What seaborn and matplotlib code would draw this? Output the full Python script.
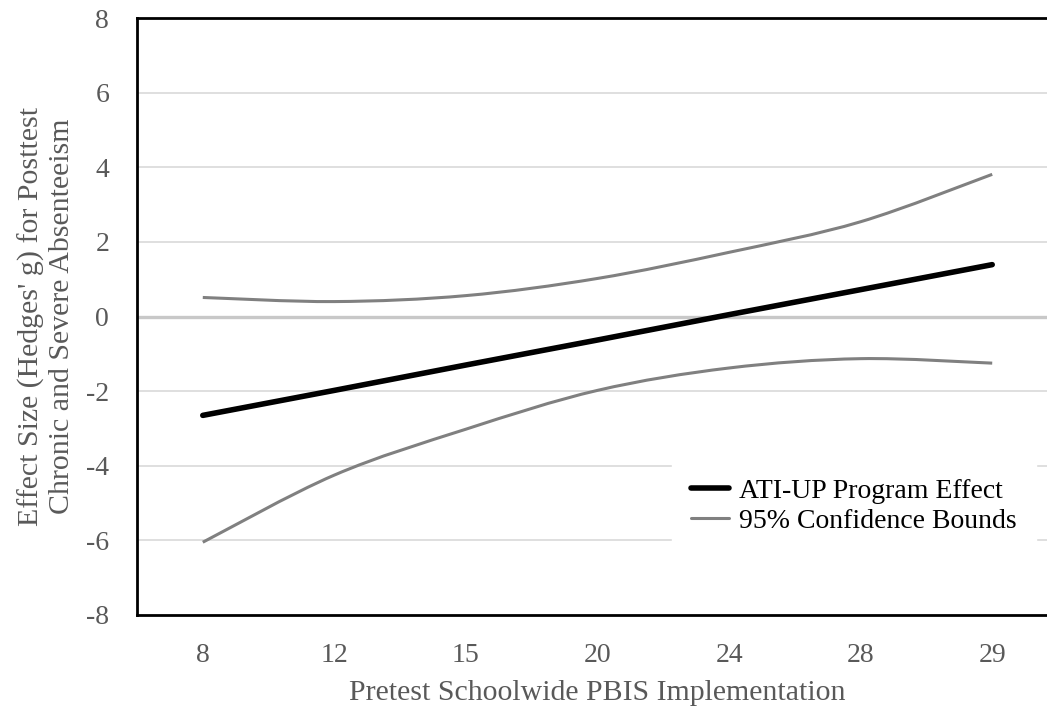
import numpy as np
import pandas as pd
import matplotlib
matplotlib.use("Agg")
import matplotlib.pyplot as plt
from matplotlib.path import Path
from matplotlib.patches import PathPatch
from matplotlib.lines import Line2D
import seaborn as sns

# ---- data ----
categories = ["8", "12", "15", "20", "24", "28", "29"]
program_effect = [-2.65, -1.98, -1.30, -0.63, 0.05, 0.72, 1.39]
upper_bound = [0.51, 0.40, 0.56, 1.02, 1.72, 2.54, 3.81]
lower_bound = [-6.05, -4.25, -3.02, -1.98, -1.38, -1.13, -1.25]
y_ticks = [-8, -6, -4, -2, 0, 2, 4, 6, 8]

sns.set_theme(style="white")
plt.rcParams["font.family"] = ["Liberation Serif", "DejaVu Serif"]

fig = plt.figure(figsize=(10.47, 7.15), dpi=100)
W, H = 1047, 715
left, right, top, bottom = 137, 1058, 18, 615
ax = fig.add_axes([left / W, 1 - bottom / H, (right - left) / W, (bottom - top) / H])

df = pd.DataFrame({"x": categories, "y": program_effect})
sns.lineplot(data=df, x="x", y="y", ax=ax, color="black", linewidth=4.0,
             solid_capstyle="round", sort=False, zorder=4)

xpos = np.asarray(ax.xaxis.convert_units(categories), dtype=float)


def smooth_path(xs, ys):
    pts = np.column_stack([xs, ys])
    n = len(pts)
    verts = [pts[0]]
    codes = [Path.MOVETO]
    for i in range(n - 1):
        p0 = pts[i - 1] if i > 0 else pts[i]
        p1 = pts[i]
        p2 = pts[i + 1]
        p3 = pts[i + 2] if i + 2 < n else pts[i + 1]
        c1 = p1 + (p2 - p0) / 6.0
        c2 = p2 - (p3 - p1) / 6.0
        verts += [c1, c2, p2]
        codes += [Path.CURVE4] * 3
    return Path(verts, codes)


for series in (upper_bound, lower_bound):
    patch = PathPatch(smooth_path(xpos, series), facecolor="none",
                      edgecolor="#808080", linewidth=2.2, zorder=3,
                      capstyle="butt")
    ax.add_patch(patch)

ax.set_xlim(-0.5, 6.5)
ax.set_ylim(-8, 8)
ax.set_yticks(y_ticks)
ax.set_yticklabels([str(v) for v in y_ticks])
ax.set_xticks(xpos)
ax.set_xticklabels(categories)

ax.grid(False)
for v in y_ticks:
    if v in (-8, 8):
        continue
    if v == 0:
        ax.axhline(v, color="#c8c8c8", linewidth=2.4, zorder=1)
    else:
        ax.axhline(v, color="#d9d9d9", linewidth=1.2, zorder=1)

for s in ("left", "top", "bottom"):
    ax.spines[s].set_color("black")
    ax.spines[s].set_linewidth(2.0)
ax.spines["right"].set_visible(False)

ax.tick_params(axis="both", length=0, labelsize=20, colors="#595959")
ax.tick_params(axis="x", pad=20)
ax.tick_params(axis="y", pad=20)

ax.set_xlabel("Pretest Schoolwide PBIS Implementation", fontsize=21.5,
              color="#595959", labelpad=9)
ax.set_ylabel("Effect Size (Hedges' g) for Posttest\nChronic and Severe Absenteeism",
              fontsize=21.5, color="#595959", labelpad=8, linespacing=1.2)

handles = [Line2D([0], [0], color="black", linewidth=4.0),
           Line2D([0], [0], color="#808080", linewidth=2.2)]
leg = ax.legend(handles, ["ATI-UP Program Effect", "95% Confidence Bounds"],
                loc="upper left", bbox_to_anchor=(672 / W, 1 - 459 / H),
                bbox_transform=fig.transFigure, borderaxespad=0,
                frameon=True, fontsize=20, handlelength=1.35, handletextpad=0.35,
                labelspacing=0.15, borderpad=0.7, fancybox=False)
leg.get_frame().set_edgecolor("white")
leg.get_frame().set_facecolor("white")
leg.get_frame().set_alpha(1.0)
leg.set_zorder(5)
for t in leg.get_texts():
    t.set_color("black")

fig.savefig("out.png", dpi=100)
